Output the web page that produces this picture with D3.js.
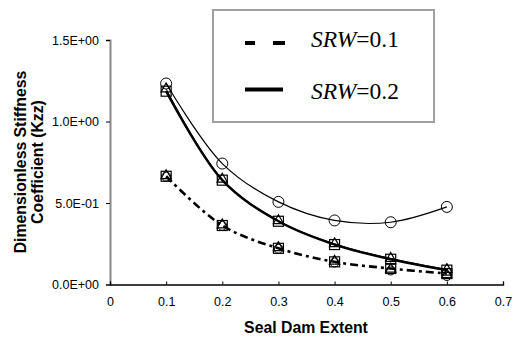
<!DOCTYPE html>
<html>
<head>
<meta charset="utf-8">
<script src="https://cdn.jsdelivr.net/npm/d3@7"></script>
<style>
  body { margin: 0; background: #fff; }
  svg { display: block; }
</style>
</head>
<body>
<svg id="chart" width="514" height="342"></svg>
<script>
// seal dam extent (x)
const extent = [0.1, 0.2, 0.3, 0.4, 0.5, 0.6];
const xTicks = [0, 0.1, 0.2, 0.3, 0.4, 0.5, 0.6, 0.7];
const yTicks = [0, 0.5, 1.0, 1.5];

// SRW = 0.1 (dash-dot)
const srw1Square = [0.664, 0.362, 0.222, 0.139, 0.098, 0.067];
const srw1Triangle = [0.668, 0.366, 0.226, 0.143, 0.094, 0.060];
const srw1Circle = [0.662, 0.360, 0.219, 0.135, 0.086, 0.052];

// SRW = 0.2 (solid)
const srw2Circle = [1.233, 0.742, 0.507, 0.393, 0.382, 0.476];
const srw2Square = [1.186, 0.640, 0.388, 0.245, 0.155, 0.088];
const srw2Triangle = [1.200, 0.646, 0.392, 0.250, 0.160, 0.092];

const legendItems = ["0.1", "0.2"];

const svg = d3.select("#chart");
const x = d3.scaleLinear().domain([0, 0.7]).range([110, 503]);
const y = d3.scaleLinear().domain([0, 1.5]).range([284.5, 40]);
const sans = "Arial, 'Liberation Sans', sans-serif";

// axes
const yAxis = svg.append("g").attr("transform", "translate(110,0)")
  .call(d3.axisLeft(y).tickValues(yTicks).tickSize(4).tickPadding(7)
    .tickFormat(d => d.toExponential(1).replace("e", "E").replace(/E([+-])(\d)$/, "E$10$2")));
yAxis.select(".domain").attr("stroke", "#888").attr("stroke-width", 2);
yAxis.selectAll(".tick line").attr("stroke", "#000");
yAxis.selectAll("text").attr("font-family", sans).attr("font-size", 12.5).attr("fill", "#000");

const xAxis = svg.append("g").attr("transform", "translate(0,284.5)")
  .call(d3.axisBottom(x).tickValues(xTicks).tickSize(-3).tickPadding(13)
    .tickFormat(d => d === 0 ? "0" : d3.format(".1f")(d)));
xAxis.select(".domain").attr("stroke", "#000").attr("stroke-width", 1.3);
xAxis.selectAll("text").attr("font-family", sans).attr("font-size", 12.5).attr("fill", "#000");

// axis titles
svg.append("text").attr("x", 306).attr("y", 333).attr("text-anchor", "middle")
  .attr("font-family", sans).attr("font-weight", "bold").attr("font-size", 15.8)
  .text("Seal Dam Extent");
svg.append("text").attr("transform", "translate(25.5,162) rotate(-90)").attr("text-anchor", "middle")
  .attr("font-family", sans).attr("font-weight", "bold").attr("font-size", 15.8)
  .text("Dimensionless Stiffness");
svg.append("text").attr("transform", "translate(43,162) rotate(-90)").attr("text-anchor", "middle")
  .attr("font-family", sans).attr("font-weight", "bold").attr("font-size", 15.8)
  .text("Coefficient (Kzz)");

const smooth = d3.line().x(d => x(d[0])).y(d => y(d[1])).curve(d3.curveCatmullRom.alpha(0.5));
const pts = vals => extent.map((e, i) => [e, vals[i]]);

// lines
svg.append("path").attr("d", smooth(pts(srw1Square))).attr("fill", "none")
  .attr("stroke", "#000").attr("stroke-width", 2.6).attr("stroke-dasharray", "8,4,3,4");
svg.append("path").attr("d", smooth(pts(srw2Triangle))).attr("fill", "none")
  .attr("stroke", "#000").attr("stroke-width", 1);
svg.append("path").attr("d", smooth(pts(srw2Square))).attr("fill", "none")
  .attr("stroke", "#000").attr("stroke-width", 2.4);
svg.append("path").attr("d", smooth(pts(srw2Circle))).attr("fill", "none")
  .attr("stroke", "#000").attr("stroke-width", 1.2);

// markers
function squares(vals) {
  svg.append("g").selectAll("rect").data(pts(vals)).join("rect")
    .attr("x", d => x(d[0]) - 5).attr("y", d => y(d[1]) - 5)
    .attr("width", 10).attr("height", 10)
    .attr("fill", "none").attr("stroke", "#000").attr("stroke-width", 1.2);
}
function triangles(vals) {
  const tri = d3.symbol().type(d3.symbolTriangle).size(45);
  svg.append("g").selectAll("path").data(pts(vals)).join("path")
    .attr("transform", d => `translate(${x(d[0])},${y(d[1])})`)
    .attr("d", tri).attr("fill", "none").attr("stroke", "#000").attr("stroke-width", 1.2);
}
function circles(vals, r) {
  svg.append("g").selectAll("circle").data(pts(vals)).join("circle")
    .attr("cx", d => x(d[0])).attr("cy", d => y(d[1])).attr("r", r)
    .attr("fill", "none").attr("stroke", "#000").attr("stroke-width", 1);
}
squares(srw1Square); triangles(srw1Triangle); circles(srw1Circle, 4.5);
squares(srw2Square); triangles(srw2Triangle); circles(srw2Circle, 5.5);

// legend
const lg = svg.append("g");
lg.append("rect").attr("x", 213).attr("y", 10).attr("width", 221).attr("height", 112)
  .attr("fill", "none").attr("stroke", "#a0a0a0").attr("stroke-width", 2);
legendItems.forEach((v, i) => {
  const ly = i === 0 ? 43 : 89.5;
  lg.append("line").attr("x1", 245).attr("x2", i === 0 ? 285 : 283).attr("y1", ly).attr("y2", ly)
    .attr("stroke", "#000").attr("stroke-width", 4)
    .attr("stroke-dasharray", i === 0 ? "10,18,12" : null);
  const t = lg.append("text").attr("x", 311).attr("y", i === 0 ? 47 : 99)
    .attr("font-family", "'Liberation Serif', 'Times New Roman', serif").attr("font-size", 23.5);
  t.append("tspan").attr("font-style", "italic").text("SRW");
  t.append("tspan").text("=" + v);
});
</script>
</body>
</html>
